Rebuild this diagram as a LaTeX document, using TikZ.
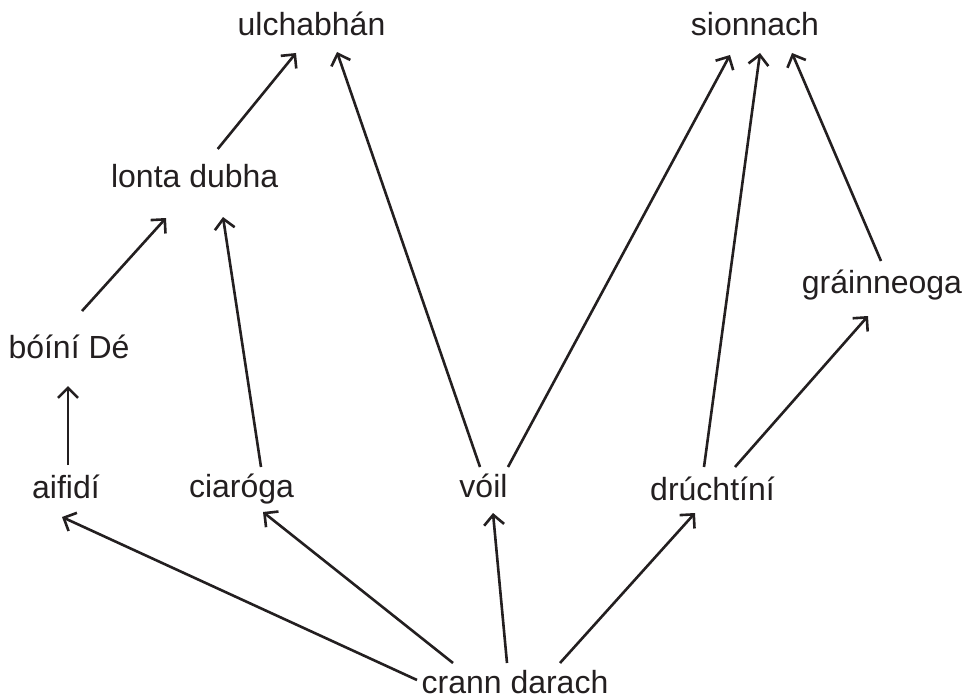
\documentclass[tikz,border=0pt]{standalone}
\usepackage{fontspec}
\setmainfont{Liberation Sans}
\usetikzlibrary{arrows.meta,calc}
\definecolor{ink}{RGB}{35,31,32}
\tikzset{
	taxon/.style={inner sep=0pt,anchor=base,text=ink,font=\fontsize{32}{38}\selectfont},
	eats/.style={draw=ink,line width=2.6pt,-{Straight Barb[length=10pt,width=20pt]}}
}
\begin{document}
\begin{tikzpicture}[x=1pt,y=-1pt]
		\useasboundingbox (0,0) rectangle (967,698);
		\node[taxon] (ulch) at (311.5,36) {ulchabhán};
		\node[taxon] (sionnach) at (755,36) {sionnach};
		\node[taxon] (lonta) at (194.7,187) {lonta dubha};
		\node[taxon] (grainn) at (882,293) {gráinneoga};
		\node[taxon] (boini) at (69,358) {bóíní Dé};
		\node[taxon] (aifidi) at (66,498) {aifidí};
		\node[taxon] (ciaroga) at (241.5,497) {ciaróga};
		\node[taxon] (voil) at (483.5,497) {vóil};
		\node[taxon] (druchtini) at (712.5,500) {drúchtíní};
		\node[taxon] (crann) at (515,693) {crann darach};
		% from the tree up
		\draw[eats] ($(crann.base)+(-98,-13)$) -- ($(aifidi.base)+(-4,19)$);
		\draw[eats] ($(crann.base)+(-62,-30)$) -- ($(ciaroga.base)+(21.5,15)$);
		\draw[eats] ($(crann.base)+(-8,-30)$) -- ($(voil.base)+(9.5,16)$);
		\draw[eats] ($(crann.base)+(45,-30)$) -- ($(druchtini.base)+(-17.5,13)$);
		\draw[eats] ($(aifidi.base)+(2,-33)$) -- ($(boini.base)+(-1,28)$);
		\draw[eats] ($(boini.base)+(13,-47)$) -- ($(lonta.base)+(-28.7,31)$);
		\draw[eats] ($(ciaroga.base)+(19.5,-30)$) -- ($(lonta.base)+(28.3,30)$);
		\draw[eats] ($(lonta.base)+(23,-38)$) -- ($(ulch.base)+(-15.5,17)$);
		\draw[eats] ($(voil.base)+(-3.5,-30)$) -- ($(ulch.base)+(25.5,16)$);
		\draw[eats] ($(voil.base)+(24.5,-30)$) -- ($(sionnach.base)+(-25,19)$);
		\draw[eats] ($(druchtini.base)+(-8.5,-33)$) -- ($(sionnach.base)+(5,17)$);
		\draw[eats] ($(druchtini.base)+(22.5,-33)$) -- ($(grainn.base)+(-14,23)$);
		\draw[eats] ($(grainn.base)+(-1,-32)$) -- ($(sionnach.base)+(37,17)$);
	\end{tikzpicture}
\end{document}
